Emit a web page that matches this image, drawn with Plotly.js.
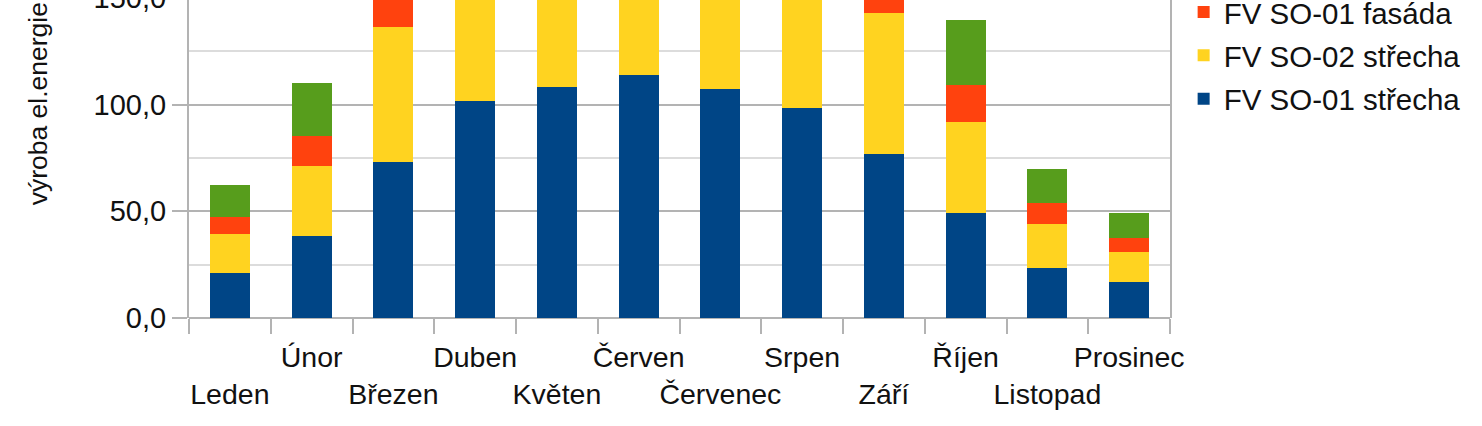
<!DOCTYPE html>
<html>
<head>
<meta charset="utf-8">
<script src="https://cdn.plot.ly/plotly-3.0.1.min.js"></script>
<style>
html, body { margin: 0; padding: 0; overflow: hidden; background: #fff; width: 1482px; height: 426px; }
#chart { position: absolute; left: 0; top: -150px; width: 1482px; height: 576px; }
</style>
</head>
<body>
<div id="chart"></div>
<script>
// Data (segments above the visible crop are estimated)
const months = ['Leden','Únor','Březen','Duben','Květen','Červen','Červenec','Srpen','Září','Říjen','Listopad','Prosinec'];
const so01Strecha = [21.1, 38.5, 73.3, 101.6, 108.1, 113.6, 107.2, 98.5, 76.6, 49.4, 23.4, 16.7];
const so02Strecha = [18.4, 32.7, 63.1, 87.4, 93.0, 97.7, 92.2, 84.7, 66.3, 42.4, 20.4, 14.0];
const so01Fasada  = [7.6, 14.1, 24.0, 26.0, 25.0, 24.0, 25.0, 26.0, 25.0, 17.4, 10.0, 6.8];
const so02Fasada  = [15.3, 25.0, 40.0, 45.0, 45.0, 44.0, 45.0, 46.0, 44.0, 30.5, 16.1, 11.8];
const seriesNames = ['FV SO-01 střecha', 'FV SO-02 střecha', 'FV SO-01 fasáda', 'FV SO-02 fasáda'];
const seriesColors = ['#004586', '#ffd320', '#ff420e', '#579d1c'];
const yTitle = 'výroba el.energie [MWh]';
// staggered category labels: even-indexed months go to the second row
const tickLabels = months.map((m, i) => i % 2 === 0 ? ' <br>' + m : m);

const seriesValues = [so01Strecha, so02Strecha, so01Fasada, so02Fasada];
const traces = seriesValues.map((vals, i) => ({
  type: 'bar',
  x: months,
  y: vals,
  name: seriesNames[i],
  legendgroup: 'g' + i,
  legendrank: seriesValues.length - i,
  marker: { color: seriesColors[i], line: { width: 0 } },
  hoverinfo: 'x+y+name'
}));

const font = { family: '"Liberation Sans", Arial, sans-serif', color: '#111' };

const layout = {
  width: 1482,
  height: 576,
  margin: { l: 189, r: 312, t: 41, b: 108, pad: 0 },
  barmode: 'stack',
  bargap: 0.51,
  separators: ', ',
  paper_bgcolor: '#fff',
  plot_bgcolor: '#fff',
  font: Object.assign({ size: 28 }, font),
  showlegend: true,
  legend: {
    x: 1.0139, xanchor: 'left',
    y: 0.8783, yanchor: 'top',
    traceorder: 'grouped',
    tracegroupgap: 2,
    font: Object.assign({ size: 29.5 }, font),
    bgcolor: 'rgba(0,0,0,0)',
    borderwidth: 0
  },
  xaxis: {
    type: 'category',
    tickmode: 'array',
    tickvals: months,
    ticktext: tickLabels,
    tickangle: 0,
    tickson: 'boundaries',
    ticks: 'outside',
    ticklen: 15,
    tickwidth: 2,
    tickcolor: '#b3b3b3',
    ticklabelstandoff: 19,
    showline: false,
    showgrid: false,
    zeroline: false,
    tickfont: Object.assign({ size: 28.5 }, font)
  },
  yaxis: {
    range: [0, 200],
    dtick: 50,
    tick0: 0,
    tickformat: '.1f',
    ticks: 'outside',
    ticklen: 15,
    tickwidth: 2,
    tickcolor: '#b3b3b3',
    showline: true,
    linecolor: '#b3b3b3',
    linewidth: 2,
    mirror: true,
    showgrid: true,
    gridcolor: '#b3b3b3',
    gridwidth: 2,
    zeroline: true,
    zerolinecolor: '#b3b3b3',
    zerolinewidth: 2,
    minor: { dtick: 25, showgrid: true, gridcolor: '#dcdcdc', gridwidth: 2, ticks: '' },
    tickfont: Object.assign({ size: 29 }, font),
    fixedrange: true
  },
  annotations: [{
    text: yTitle,
    textangle: -90,
    xref: 'paper', yref: 'y',
    x: (38 - 189) / 981, y: 51.6,
    xanchor: 'center', yanchor: 'bottom',
    showarrow: false,
    font: Object.assign({ size: 26.5 }, font)
  }]
};

Plotly.newPlot('chart', traces, layout, { displayModeBar: false, staticPlot: true });
</script>
</body>
</html>
